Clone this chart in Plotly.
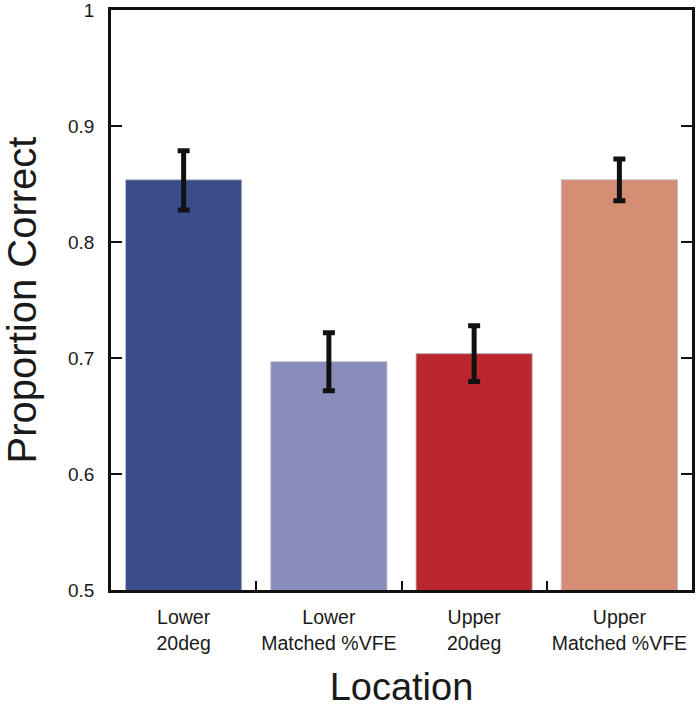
import plotly.graph_objects as go

categories = ["Lower<br>20deg", "Lower<br>Matched %VFE", "Upper<br>20deg", "Upper<br>Matched %VFE"]
values = [0.854, 0.697, 0.704, 0.854]
err_plus = [0.025, 0.025, 0.024, 0.018]
err_minus = [0.026, 0.025, 0.024, 0.018]
colors = ["#3b4c8a", "#898dbb", "#bb272f", "#d58d74"]
y_ticks = [0.5, 0.6, 0.7, 0.8, 0.9, 1.0]
y_ticktext = ["0.5", "0.6", "0.7", "0.8", "0.9", "1"]

fig = go.Figure()
fig.add_trace(go.Bar(
    x=categories, y=values,
    marker=dict(color=colors, line=dict(color="rgba(190,190,200,0.9)", width=1)),
    width=0.8,
    error_y=dict(type="data", symmetric=False, array=err_plus, arrayminus=err_minus,
                 color="#111111", thickness=5, width=6),
))

fig.update_layout(
    width=697, height=708,
    margin=dict(l=111, r=5, t=10, b=118, autoexpand=False),
    plot_bgcolor="white", paper_bgcolor="white",
    font=dict(family="Liberation Sans, Arial, sans-serif", color="#1a1a1a"),
    showlegend=False,
    bargap=0.2,
)
fig.update_xaxes(
    type="category",
    range=[-0.5, 3.5],
    showline=True, linecolor="#111111", linewidth=2.5, mirror=True,
    ticks="inside", tickson="boundaries", ticklen=9, tickwidth=2, tickcolor="#111111",
    tickfont=dict(size=19.5), tickangle=0,
    ticklabelstandoff=8,
    title=dict(text="Location", font=dict(size=38), standoff=32),
    showgrid=False, automargin=True,
)
fig.update_yaxes(
    range=[0.5, 1.0005],
    tickvals=y_ticks, ticktext=y_ticktext,
    showline=True, linecolor="#111111", linewidth=2.5, mirror="ticks",
    ticks="inside", ticklen=11, tickwidth=2, tickcolor="#111111",
    tickfont=dict(size=19), ticklabeloverflow="allow",
    ticklabelstandoff=10,
    title=dict(text="Proportion Correct", font=dict(size=40), standoff=26),
    showgrid=False, zeroline=False, automargin=True,
)

fig.write_html("out.html", config={"displayModeBar": False},
               post_script="document.body.style.margin='0px';")
